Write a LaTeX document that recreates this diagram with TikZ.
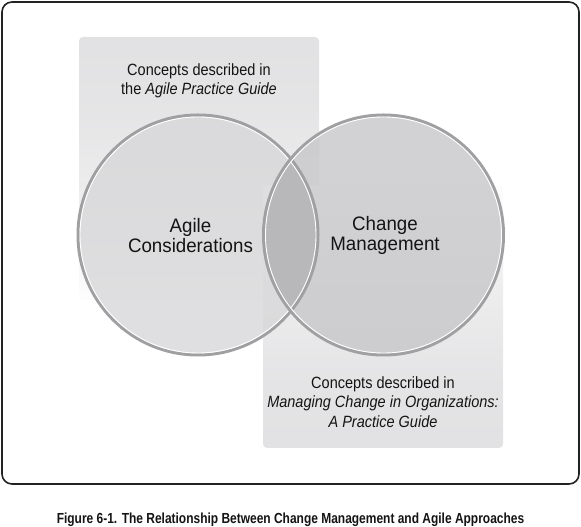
\documentclass[tikz,border=0pt]{standalone}
\usepackage{fontspec}
\setmainfont{Liberation Sans}
\newfontfamily\lblfont[FakeStretch=0.89]{Liberation Sans}
\newfontfamily\circfont[FakeStretch=0.96]{Liberation Sans}
\newfontfamily\capfont[FakeStretch=0.82]{Liberation Sans}
\definecolor{rectgray}{HTML}{DCDCDE}
\definecolor{ringgray}{HTML}{A0A0A2}
\definecolor{leftfill}{HTML}{D7D7D9}
\definecolor{rightfill}{HTML}{C7C7CA}
\definecolor{lensfill}{HTML}{B8B8BA}
\definecolor{framecol}{HTML}{222222}
\definecolor{txtcol}{HTML}{141414}
\pgfdeclareverticalshading{leftfade}{100bp}{color(0bp)=(white); color(22bp)=(white); color(46bp)=(white!45!rectgray!95!white); color(61bp)=(white!25!rectgray); color(100bp)=(rectgray)}
\pgfdeclareverticalshading{rightfade}{100bp}{color(0bp)=(rectgray); color(39bp)=(white!25!rectgray); color(54bp)=(white!45!rectgray!95!white); color(78bp)=(white); color(100bp)=(white)}
\tikzset{
  frame/.style={draw=framecol, line width=1.6pt, rounded corners=10pt},
  ring/.style={draw=ringgray, line width=3pt},
  ringin/.style={draw=white, line width=0.9pt},
  lbl/.style={text=txtcol, align=center, font=\lblfont\fontsize{16.3}{19.5}\selectfont, inner sep=0pt},
  circlbl/.style={text=txtcol, align=center, font=\circfont\fontsize{19.5}{19.5}\selectfont, inner sep=0pt},
  caplbl/.style={text=txtcol, font=\capfont\bfseries\fontsize{14.6}{16}\selectfont, inner sep=0pt}
}
\begin{document}
\begin{tikzpicture}[x=1pt,y=1pt]
\useasboundingbox (0,0) rectangle (581,527);
\coordinate (cl) at (198,292);
\coordinate (cr) at (383.5,292);
% outer frame
\draw[frame] (2,43) rectangle (579,525);
% background rectangles
\shade[rounded corners=4pt, shading=leftfade] (79,227) rectangle (319,490);
\shade[rounded corners=4pt, shading=rightfade] (263,79) rectangle (503,342);
% circle fills
\fill[leftfill, fill opacity=0.8] (cl) circle (120);
\fill[rightfill, fill opacity=0.8] (cr) circle (120);
\begin{scope}
  \clip (cl) circle (120);
  \fill[lensfill] (cr) circle (120);
\end{scope}
% circle borders
\draw[ring] (cl) circle (120);
\draw[ringin] (cl) circle (118);
\draw[ring] (cr) circle (120);
\draw[ringin] (cr) circle (118);
% texts
\node[lbl] (toplbl) at (199,446) {Concepts described in\\the \textit{Agile Practice Guide}};
\node[circlbl] (agile) at (190.5,291.5) {Agile\\Considerations};
\node[circlbl] (change) at (385,291.5) {Change\\Management};
\node[lbl] (botlbl) at (383,125) {Concepts described in\\\textit{Managing Change in Organizations:}\\\textit{A Practice Guide}};
\node[caplbl, anchor=base] (caption) at (290.5,3) {Figure 6-1. The Relationship Between Change Management and Agile Approaches};
\end{tikzpicture}
\end{document}
